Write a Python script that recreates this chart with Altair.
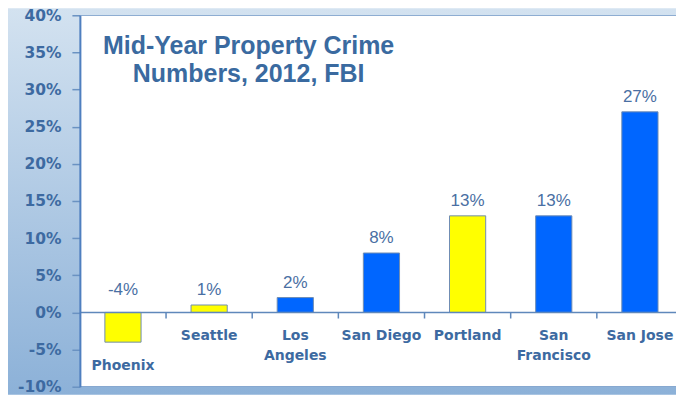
import altair as alt
import pandas as pd

cities = ["Phoenix", "Seattle", "Los Angeles", "San Diego", "Portland", "San Francisco", "San Jose"]
city_labels = ["Phoenix", "Seattle", "Los\nAngeles", "San Diego", "Portland", "San\nFrancisco", "San Jose"]
values = [-4, 1, 2, 8, 13, 13, 27]
bar_colors = ["#ffff00", "#ffff00", "#0066ff", "#0066ff", "#ffff00", "#0066ff", "#0066ff"]
y_ticks = [-10, -5, 0, 5, 10, 15, 20, 25, 30, 35, 40]
title_text = "Mid-Year Property Crime\nNumbers, 2012, FBI"

W = 597
H = 372
AX = "#3d6aa1"

df = pd.DataFrame({"city": cities, "label": city_labels, "value": values, "color": bar_colors})
df["pct"] = [f"{v}%" for v in values]
one = pd.DataFrame({"t": [title_text]})

yscale = alt.Scale(domain=[-10, 40], nice=False, zero=False)
xscale = alt.Scale(domain=cities, paddingInner=0, paddingOuter=0, range=[0, 604])

yaxis = alt.Axis(title=None, values=y_ticks, labelExpr="datum.value + '%'",
                 labelFont="DejaVu Sans", labelFontWeight="bold", labelFontSize=15.5,
                 labelColor=AX, labelPadding=11, tickSize=8, tickColor="#6a92c2",
                 tickWidth=1.5, domainColor="#4f7fbf", domainWidth=2, grid=False,
                 zindex=2)

X = alt.X("city:N", sort=cities, scale=xscale, axis=None)

bg = alt.Chart(one).mark_rect(
    fill=alt.Gradient(
        gradient="linear",
        stops=[alt.GradientStop(color="#d3e2f0", offset=0),
               alt.GradientStop(color="#8cb1d8", offset=1)],
        x1=0, x2=0, y1=0, y2=1),
).encode(x=alt.value(-72), x2=alt.value(W), y=alt.value(-7), y2=alt.value(H + 8))

plot = alt.Chart(one).mark_rect(fill="white", stroke="#6f96c6", strokeWidth=1.5, clip=True).encode(
    x=alt.value(0), x2=alt.value(W + 6), y=alt.value(0), y2=alt.value(H))

base = alt.Chart(df)

bars = base.mark_bar(width=alt.RelativeBandSize(0.42), stroke="#6f8db3", strokeWidth=1).encode(
    x=X,
    y=alt.Y("value:Q", scale=yscale, axis=yaxis),
    color=alt.Color("color:N", scale=None),
)

zero = alt.Chart(one).mark_rule(color="#5f88bb", strokeWidth=1.5).encode(
    y=alt.datum(0, type="quantitative", scale=yscale, axis=yaxis))

ticks = base.mark_rule(color="#5f88bb", strokeWidth=1.5, y2Offset=6, clip=True).encode(
    x=alt.X("city:N", sort=cities, scale=xscale, axis=None, bandPosition=0),
    y=alt.datum(0, type="quantitative", scale=yscale, axis=yaxis),
    y2=alt.datum(0),
)

vlabels = base.transform_calculate(ly="max(datum.value, 1)").mark_text(
    font="Liberation Sans", fontSize=17, color="#4a6fa3", baseline="alphabetic", dy=-10
).encode(
    x=X,
    y=alt.Y("ly:Q", scale=yscale, axis=yaxis),
    text="pct:N",
)

clabels = base.transform_calculate(cy="min(datum.value, 0)").mark_text(
    font="DejaVu Sans", fontWeight="bold", fontSize=14, color=AX, baseline="top", dy=17,
    lineBreak="\n", lineHeight=20, clip=True
).encode(
    x=X,
    y=alt.Y("cy:Q", scale=yscale, axis=yaxis),
    text="label:N",
)

title = alt.Chart(one).mark_text(
    font="Liberation Sans", fontWeight="bold", fontSize=25, color="#3a6aa0",
    align="center", baseline="alphabetic", lineBreak="\n", lineHeight=27.5
).encode(x=alt.value(169), y=alt.value(39), text="t:N")

chart = alt.layer(bg, plot, bars, zero, ticks, vlabels, clabels, title).properties(
    width=W, height=H, padding=0
).configure_view(stroke=None)

chart.save("out.html", embed_options={"renderer": "svg", "actions": False})
